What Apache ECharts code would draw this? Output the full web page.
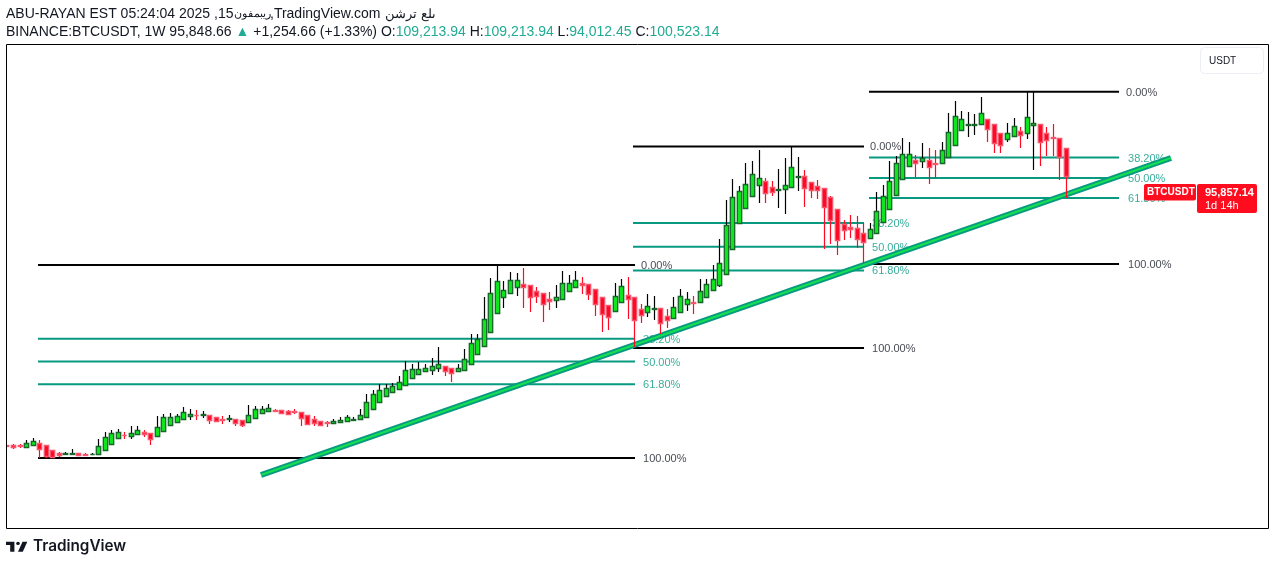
<!DOCTYPE html>
<html>
<head>
<meta charset="utf-8">
<script src="https://cdn.jsdelivr.net/npm/echarts@6/dist/echarts.min.js"></script>
<style>
html, body { margin: 0; padding: 0; background: #fff; }
#main { width: 1275px; height: 565px; }
</style>
</head>
<body>
<div id="main"></div>
<script>
// weekly BTCUSDT candles
var opens = [19310,19403,19254,18890,19494,19908,19312,17802,17077,16775,16775,16896,16685,16594,16594,17802,19615,21428,22514,22212,22635,23420,22937,22212,23541,25535,26441,27348,28253,28465,28556,28374,27771,27257,27257,27166,26864,26260,27468,28979,29582,29975,29884,29673,29582,29280,28374,27166,26562,26260,25958,26260,26562,27046,27166,27771,30186,32392,34114,35322,36228,37436,39550,40759,41665,41967,42571,43175,42571,41665,41967,43780,46801,49217,53446,59185,64018,65227,67040,67946,67644,65831,65227,63414,63112,63414,65831,67040,68247,67946,66435,64018,61601,59880,62599,64623,64018,60394,59487,60575,60695,58280,57674,59487,61904,62599,62508,64018,66133,67644,70966,78517,86371,91084,94708,97850,99058,97245,96521,96641,97245,100266,100568,98756,97548,96943,94226,90600,86069,85163,84861,83351,81840,83351,86667,90600,94829,99662,103590,105401,105100,105401,104586,104495,106308,109922,114464,116155,116155,116246,117787,116246,113558,111745,112652,114162,113558,115974,116276,113558,112349,112047,109213];
var highs = [19400,19705,19796,20914,21518,20823,19312,17802,17289,17289,18195,16896,16987,16987,21216,23330,23934,24145,23330,25142,25142,23934,22937,28073,28767,29069,28767,30881,30277,29975,29673,28374,27771,28163,28465,27166,26864,31486,31184,31184,31788,30368,29884,29975,30277,29280,28374,28073,26562,26653,27257,27771,28465,27771,30277,34899,36017,37739,37920,38222,40245,44686,43871,44384,43871,45592,48905,43175,42571,43871,48401,52842,52842,64109,69848,73775,68851,71570,71268,72779,67644,67040,65227,65529,67644,71872,70660,71872,70060,67946,66435,64018,61601,68247,69455,70060,64018,61904,64924,64321,60695,60394,64018,66435,65529,64411,69455,69455,73684,81538,93319,99662,97637,104495,105100,108422,99964,99058,102683,106006,109631,106308,102381,98756,99360,96943,94528,90600,87277,88788,88486,86371,86371,95732,97850,105100,106610,112047,110840,106912,110534,109026,108422,110840,119599,123224,120203,119901,119298,124431,117787,116246,113558,116549,118089,115371,125943,126124,116276,115371,116276,112047,109213];
var lows = [19100,18195,18497,18890,19494,15567,15567,15567,15688,16685,16383,16081,16171,16473,16473,17802,19615,21428,21216,21216,22635,21820,19403,21820,23541,25535,26441,27348,26955,26955,27559,25747,26351,25747,26351,25142,24840,26260,27468,28979,29582,29371,28858,28465,28767,25142,25354,25142,25142,24840,25958,26260,26562,26562,27166,27771,30186,32392,34114,35322,36228,37436,39550,40759,41363,40548,41544,40337,38523,41665,41967,43780,46801,49217,53446,59185,60786,65227,64411,60786,59578,62297,56557,60182,60786,63414,65831,67040,65016,63203,58370,53537,54141,59880,62599,57372,48905,56164,57976,57070,52842,54654,57674,59487,59789,59064,62508,64018,66133,67040,70966,78517,86371,90993,94406,92413,92413,94527,90963,89272,97245,96219,91386,93923,93621,78517,80030,76705,81236,81840,78819,74288,81840,83351,86667,90600,94829,99662,103288,100476,102985,98333,99964,104495,106308,109922,114464,112349,112954,116246,110839,107516,107516,110839,112652,109026,111745,102381,103771,106700,106600,99360,94012];
var closes = [19190,18799,19101,19908,20521,18286,16171,15869,16473,16987,16987,16473,16473,16775,19011,21729,22937,23240,22333,22937,23843,22816,21307,24749,27771,27771,28073,29280,28767,28374,28767,27046,26743,27046,27468,26139,25535,28374,30186,30186,30488,29764,29159,28767,29371,27468,25837,26049,25535,26049,26562,26864,27771,27257,28374,32302,34717,35926,36530,37135,38343,41967,42269,42269,42571,43175,43780,41665,41061,42571,45290,50123,51513,57372,65227,68851,66133,69153,69153,67040,64018,64320,61904,62806,64018,68247,68247,69153,67825,64926,61904,58883,57975,64320,67341,63414,57070,58581,61300,60786,56164,57070,60998,64321,63414,62297,65831,67946,69455,74288,85767,94226,96037,98152,101173,99964,95433,95735,96732,97850,103288,100568,96943,96339,96339,91205,87277,81236,84257,84559,81538,80632,84559,89996,94528,99058,104495,107214,107214,104495,106006,103288,104374,108422,113860,118693,117787,116367,116367,119599,114766,110507,109933,113558,115673,112954,118391,116578,110839,111443,112047,106308,100523];

// fibonacci drawings: bar index span, level labels, level prices
var fibLabels = ['0.00%', '38.20%', '50.00%', '61.80%', '100.00%'];
var fibSpans = [[4.74, 96.04], [95.73, 131.06], [131.82, 170.06]];
var fibPrices = [
	[73777, 51506, 44626, 37747, 15476],
	[109588, 86443, 79294, 72145, 48700],
	[126100, 106248, 100056, 94014, 74078]
];

// rising trend line, bar index and price at both ends
var trendBars = [38.84, 178];
var trendPrices = [10341, 106097];

var BLACK_LINE = '#000000';
var TEAL = '#089981';
var TAG_RED = '#ff0d1f';

var chart = echarts.init(document.getElementById('main'), null, { renderer: 'canvas' });

var categories = [];
for (var i = 0; i < 194; i++) {
	categories.push(String(i));
}

var candleRows = opens.map(function (o, i) {
	return [i, o, closes[i], lows[i], highs[i]];
});

function renderCandle(params, api) {
	var idx = api.value(0);
	var o = api.coord([idx, api.value(1)]);
	var c = api.coord([idx, api.value(2)]);
	var l = api.coord([idx, api.value(3)]);
	var h = api.coord([idx, api.value(4)]);
	var up = api.value(2) >= api.value(1);
	// snap to the pixel grid so borders stay crisp
	var cx = Math.floor(o[0]);
	var top = Math.round(Math.min(o[1], c[1])) + 0.5;
	var bottom = Math.round(Math.max(o[1], c[1])) + 0.5;
	return {
		type: 'group',
		children: [{
			type: 'line',
			shape: { x1: cx + 0.5, y1: Math.round(h[1]), x2: cx + 0.5, y2: Math.round(l[1]) },
			style: { stroke: up ? '#000000' : '#ff0a22', lineWidth: 1.2 }
		}, {
			type: 'rect',
			shape: { x: cx - 1.7, y: top, width: 4.4, height: bottom - top },
			style: { fill: up ? '#0fe51c' : '#ff0a26', stroke: up ? '#17652b' : '#f7566c', lineWidth: 1.3 }
		}]
	};
}

var series = [];

// fib level lines + their text labels, under the candles
fibSpans.forEach(function (span, f) {
	fibPrices[f].forEach(function (price, k) {
		var black = k == 0 || k == 4;
		series.push({
			type: 'line',
			xAxisIndex: 1,
			z: 2,
			silent: true,
			showSymbol: false,
			lineStyle: { color: black ? BLACK_LINE : TEAL, width: 2 },
			data: [[span[0], price], [span[1], price]]
		});
		series.push({
			type: 'scatter',
			xAxisIndex: 1,
			z: 2,
			silent: true,
			symbolSize: 0,
			label: {
				show: true,
				position: 'right',
				distance: (k == 0 ? 6 : 8) + (f == 2 ? 1 : 0),
				offset: [0, 1],
				formatter: fibLabels[k],
				fontFamily: 'Liberation Sans',
				fontSize: 11,
				color: black ? '#131722' : TEAL
			},
			data: [[span[1], price]]
		});
	});
});

// trend line, thick teal with a bright core
series.push({
	type: 'line',
	xAxisIndex: 1,
	z: 3,
	silent: true,
	showSymbol: false,
	lineStyle: { color: '#089981', width: 6, cap: 'butt' },
	data: [[trendBars[0], trendPrices[0]], [trendBars[1], trendPrices[1]]]
});
series.push({
	type: 'line',
	xAxisIndex: 1,
	z: 3,
	silent: true,
	showSymbol: false,
	lineStyle: { color: '#14e050', width: 2, cap: 'butt' },
	data: [[trendBars[0], trendPrices[0]], [trendBars[1], trendPrices[1]]]
});

series.push({
	type: 'custom',
	xAxisIndex: 0,
	z: 5,
	silent: true,
	clip: false,
	renderItem: renderCandle,
	encode: { x: 0, y: [1, 2, 3, 4] },
	data: candleRows
});

var headerStyle = { fontFamily: 'Liberation Sans', fontSize: 14, fill: '#131722' };

var option = {
	animation: false,
	backgroundColor: '#ffffff',
	tooltip: { show: false },
	legend: { show: false },
	grid: { left: 3.73, top: 44, width: 1268.6, height: 485, containLabel: false },
	xAxis: [
		{ type: 'category', data: categories, show: false },
		{ type: 'value', min: -0.5, max: 193.5, show: false }
	],
	yAxis: { type: 'value', min: -5971, max: 140533, show: false, splitLine: { show: false } },
	series: series,
	graphic: [
		// hide what sticks out left of the frame, then the frame itself
		{ type: 'rect', z: 6, shape: { x: 0, y: 44, width: 6, height: 486 }, style: { fill: '#ffffff' } },
		{ type: 'rect', z: 7, shape: { x: 6.5, y: 44.5, width: 1262, height: 484 }, style: { fill: 'none', stroke: '#000000', lineWidth: 1 } },
		// header lines, first one in pieces because the arabic runs are narrower in the original
		{ type: 'text', left: 6, top: 7, z: 10, style: Object.assign({ text: 'ABU-RAYAN EST 05:24:04 2025 ,15' }, headerStyle) },
		{ type: 'text', left: 234, top: 8, z: 10, style: { text: 'ريبمفون', fontFamily: 'Liberation Sans', fontSize: 11, fill: '#131722' } },
		{ type: 'text', left: 270, top: 7, z: 10, style: Object.assign({ text: ',TradingView.com' }, headerStyle) },
		{ type: 'text', left: 385, top: 8, z: 10, style: { text: 'ىلع ترشن', fontFamily: 'Liberation Sans', fontSize: 13, fill: '#131722' } },
		{
			type: 'text', left: 6, top: 25, z: 10,
			style: {
				text: '{d|BINANCE:BTCUSDT, 1W 95,848.66 }{g|▲}{d| +1,254.66 (+1.33%) O:}{g|109,213.94}{d| H:}{g|109,213.94}{d| L:}{g|94,012.45}{d| C:}{g|100,523.14}',
				rich: {
					d: { fontFamily: 'Liberation Sans', fontSize: 14, fill: '#131722' },
					g: { fontFamily: 'Liberation Sans', fontSize: 14, fill: '#22ab94' }
				}
			}
		},
		// currency button
		{ type: 'rect', z: 10, shape: { x: 1200.5, y: 47.5, width: 63, height: 26, r: 4 }, style: { fill: '#ffffff', stroke: '#eceef4', lineWidth: 1 } },
		{ type: 'text', left: 1209, top: 56, z: 11, style: { text: 'USDT', fontFamily: 'Liberation Sans', fontSize: 10, fill: '#131722' } },
		// last price tag
		{ type: 'rect', z: 10, shape: { x: 1144, y: 184, width: 52, height: 16.5, r: 2 }, style: { fill: TAG_RED } },
		{ type: 'text', left: 1147, top: 187, z: 11, style: { text: 'BTCUSDT', fontFamily: 'Liberation Sans', fontWeight: 'bold', fontSize: 10, fill: '#ffffff' } },
		{ type: 'rect', z: 10, shape: { x: 1197, y: 184, width: 60, height: 29, r: 2 }, style: { fill: TAG_RED } },
		{ type: 'text', left: 1205, top: 187, z: 11, style: { text: '95,857.14', fontFamily: 'Liberation Sans', fontWeight: 'bold', fontSize: 11, fill: '#ffffff' } },
		{ type: 'text', left: 1205, top: 200, z: 11, style: { text: '1d 14h', fontFamily: 'Liberation Sans', fontSize: 11, fill: '#ffffff' } },
		// tradingview mark
		{ type: 'polygon', z: 10, x: 6, y: 538.5, scaleX: 0.6, scaleY: 0.55, shape: { points: [[0, 6], [14, 6], [14, 24], [7, 24], [7, 12], [0, 12]] }, style: { fill: '#131722' } },
		{ type: 'polygon', z: 10, x: 6, y: 538.5, scaleX: 0.6, scaleY: 0.55, shape: { points: [[20, 24], [27.5, 6], [35.5, 6], [28, 24]] }, style: { fill: '#131722' } },
		{ type: 'circle', z: 10, x: 6, y: 538.5, scaleX: 0.6, scaleY: 0.55, shape: { cx: 20, cy: 9, r: 3 }, style: { fill: '#131722' } },
		{ type: 'text', left: 33, top: 539, z: 10, style: { text: 'TradingView', fontFamily: 'Inter', fontWeight: 600, fontSize: 15.3, fill: '#131722' } }
	]
};

chart.setOption(option);
</script>
</body>
</html>
